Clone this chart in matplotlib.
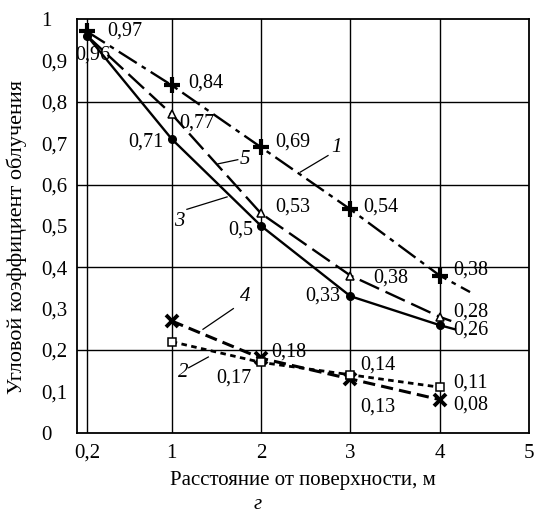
import numpy as np
import matplotlib
matplotlib.use('Agg')
import matplotlib.pyplot as plt

plt.rcParams['font.family'] = ['Liberation Serif', 'DejaVu Serif']

# distance from the surface, m
x_all = [0.2, 1, 2, 3, 4]
x_far = [1, 2, 3, 4]

# view factor, one list per curve
y1 = [0.97, 0.84, 0.69, 0.54, 0.38]
y5 = [0.96, 0.77, 0.53, 0.38, 0.28]
y3 = [0.96, 0.71, 0.50, 0.33, 0.26]
y4 = [0.27, 0.18, 0.13, 0.08]
y2 = [0.22, 0.17, 0.14, 0.11]

# where the drawn curves run on past the last point
tail1 = (4.34, 0.34)
tail5 = (4.13, 0.27)
tail3 = (4.17, 0.25)

labels1 = ['0,97', '0,84', '0,69', '0,54', '0,38']
labels5 = [None, '0,77', '0,53', '0,38', '0,28']
labels3 = ['0,96', '0,71', '0,5', '0,33', '0,26']
labels4 = [None, '0,18', '0,13', '0,08']
labels2 = [None, '0,17', '0,14', '0,11']

xticks = [0.2, 1, 2, 3, 4, 5]
xticklabels = ['0,2', '1', '2', '3', '4', '5']
yticks = np.round(np.arange(0, 1.01, 0.1), 1)
yticklabels = ['0'] + ['0,%d' % i for i in range(1, 10)] + ['1']


# the 0.2 column is squeezed towards the axis, the rest is linear
def fwd(x):
    x = np.asarray(x, dtype=float)
    return np.where(x < 1, 0.05 + (x - 0.2) * 1.1875, x)


def inv(y):
    y = np.asarray(y, dtype=float)
    return np.where(y < 1, 0.2 + (y - 0.05) / 1.1875, y)


fig = plt.figure(figsize=(5.34, 5.19), dpi=100)
ax = fig.add_axes([0.1442, 0.1663, 0.8464, 0.797])
ax.set_xscale('function', functions=(fwd, inv))
ax.set_xlim(0.107, 5)
ax.set_ylim(0, 1)

for g in [0.2, 1, 2, 3, 4]:
    ax.axvline(g, color='black', lw=1.0, zorder=1)
for g in [0.2, 0.4, 0.6, 0.8]:
    ax.axhline(g, color='black', lw=1.0, zorder=1)
for s in ax.spines.values():
    s.set_linewidth(1.3)

lw = 1.7
ax.plot(x_all + [tail1[0]], y1 + [tail1[1]], color='black', lw=lw,
        dashes=(9, 2.5, 2, 2.5), zorder=3)
ax.plot(x_all, y1, ls='none', marker='+', ms=11, mew=3, color='black', zorder=4)

ax.plot(x_all + [tail5[0]], y5 + [tail5[1]], color='black', lw=lw,
        dashes=(9, 3), zorder=3)
ax.plot(x_all[1:], y5[1:], ls='none', marker='^', ms=6, mew=1.1,
        mfc='white', mec='black', zorder=4)

ax.plot(x_all + [tail3[0]], y3 + [tail3[1]], color='black', lw=lw, zorder=3)
ax.plot(x_all, y3, ls='none', marker='o', ms=5.5, color='black', zorder=4)

ax.plot(x_far, y4, color='black', lw=2.2, dashes=(4, 2), zorder=3)
ax.plot(x_far, y4, ls='none', marker='x', ms=9, mew=2.8, color='black', zorder=4)

ax.plot(x_far, y2, color='black', lw=2.0, dashes=(2, 1.6), zorder=3)
ax.plot(x_far, y2, ls='none', marker='s', ms=6, mew=1.1,
        mfc='white', mec='black', zorder=4)

# value labels: (dx, dy) in pixels from the point, and alignment
lab_fs = 14.5
off1 = [(20, 0, 'left'), (17, 2, 'left'), (14, 5, 'left'), (13, 2, 'left'), (14, 5, 'left')]
off5 = [None, (8, -9, 'left'), (14, 6, 'left'), (23, -3, 'left'), (14, 5, 'left')]
off3 = [(6, -19, 'center'), (-8, -3, 'right'), (-8, -4, 'right'), (-10, 0, 'right'), (14, -5, 'left')]
off4 = [None, (10, 6, 'left'), (10, -28, 'left'), (14, -5, 'left')]
off2 = [None, (-10, -16, 'right'), (10, 10, 'left'), (14, 4, 'left')]

for xs, ys, labs, offs in [(x_all, y1, labels1, off1), (x_all, y5, labels5, off5),
                           (x_all, y3, labels3, off3), (x_far, y4, labels4, off4),
                           (x_far, y2, labels2, off2)]:
    for xv, yv, lab, off in zip(xs, ys, labs, offs):
        if lab is None:
            continue
        dx, dy, ha = off
        ax.annotate(lab, (xv, yv), xytext=(dx, dy), textcoords='offset pixels',
                    ha=ha, va='center', fontsize=lab_fs, zorder=5)

# curve numbers with leader lines
leaders = [('1', (2.85, 0.69), (2.75, 0.67), (2.44, 0.63)),
           ('5', (1.82, 0.66), (1.74, 0.66), (1.52, 0.65)),
           ('3', (1.09, 0.51), (1.17, 0.54), (1.62, 0.57)),
           ('4', (1.82, 0.33), (1.69, 0.30), (1.35, 0.25)),
           ('2', (1.13, 0.145), (1.19, 0.157), (1.41, 0.183))]
for txt, pos, p0, p1 in leaders:
    ax.plot([p0[0], p1[0]], [p0[1], p1[1]], color='black', lw=0.9, zorder=5)
    ax.text(pos[0], pos[1], txt, fontsize=15, style='italic',
            ha='center', va='center', zorder=5)

ax.set_xticks(xticks)
ax.set_xticklabels(xticklabels)
ax.set_yticks(yticks)
ax.set_yticklabels(yticklabels, ha='left')
ax.tick_params(axis='both', length=0, labelsize=15)
ax.tick_params(axis='y', pad=26)
ax.tick_params(axis='x', pad=8)
ax.xaxis.set_minor_locator(matplotlib.ticker.NullLocator())

ax.set_xlabel('Расстояние от поверхности, м', fontsize=15, labelpad=6)
ax.set_ylabel('Угловой коэффициент облучения', fontsize=16)
ax.yaxis.set_label_coords(-0.110, 0.472)
fig.text(0.483, 0.027, 'г', fontsize=15, style='italic', ha='center', va='center')

fig.savefig('out.png', dpi=100)
